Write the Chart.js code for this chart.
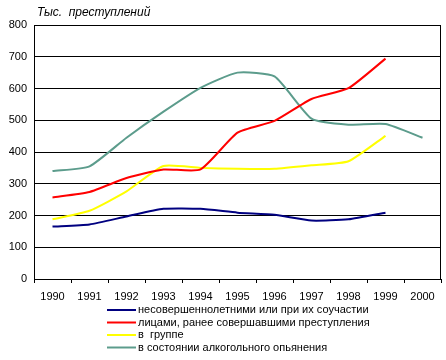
<!DOCTYPE html>
<html>
<head>
<meta charset="utf-8">
<script src="https://cdn.jsdelivr.net/npm/chart.js@4"></script>
<style>
  html, body { margin: 0; padding: 0; background: #fff; }
  #wrap { width: 446px; height: 360px; }
</style>
</head>
<body>
<div id="wrap"><canvas id="crimeChart" width="446" height="360"></canvas></div>
<script>
// years and series (thousand crimes)
const years = ['1990', '1991', '1992', '1993', '1994', '1995', '1996', '1997', '1998', '1999', '2000'];
const minors = [165, 172, 197, 221, 221, 209, 202, 184, 188, 209, null];
const repeaters = [257, 274, 318, 345, 345, 461, 498, 567, 601, 694, null];
const groups = [188, 215, 276, 356, 350, 347, 347, 358, 371, 451, null];
const drunk = [340, 355, 445, 527, 602, 650, 638, 505, 486, 488, 445];

const seriesLabels = [
    'несовершеннолетними или при их соучастии',
    'лицами, ранее совершавшими преступления',
    'в  группе',
    'в состоянии алкогольного опьянения'
];
const seriesColors = ['#000080', '#ff0000', '#ffff00', '#5c9c8c'];
const yTicks = [0, 100, 200, 300, 400, 500, 600, 700, 800];

const FONT = 'Liberation Sans, Arial, sans-serif';

// Title above the plot and the legend stacked under the axis
const extraText = {
    id: 'extraText',
    afterDraw(chart) {
        const { ctx } = chart;
        ctx.save();
        ctx.fillStyle = '#000';
        ctx.font = 'italic 12px ' + FONT;
        ctx.textBaseline = 'middle';
        ctx.fillText('Тыс.  преступлений', 37, 13);

        ctx.font = '11px ' + FONT;
        const rowY = [310, 322.5, 335, 347.5];
        chart.data.datasets.forEach((ds, i) => {
            ctx.strokeStyle = ds.borderColor;
            ctx.lineWidth = 2;
            ctx.beginPath();
            ctx.moveTo(107, rowY[i]);
            ctx.lineTo(136, rowY[i]);
            ctx.stroke();
            ctx.fillText(ds.label, 138, rowY[i]);
        });
        ctx.restore();
    }
};

const datasets = [minors, repeaters, groups, drunk].map((vals, i) => ({
    label: seriesLabels[i],
    data: vals,
    borderColor: seriesColors[i],
    backgroundColor: seriesColors[i],
    borderWidth: 2,
    pointRadius: 0,
    tension: 0.18,
    fill: false
}));

new Chart(document.getElementById('crimeChart'), {
    type: 'line',
    data: { labels: years, datasets: datasets },
    options: {
        responsive: false,
        animation: false,
        layout: { padding: { top: 25, right: 5, bottom: 58, left: 0 } },
        plugins: {
            legend: { display: false },
            tooltip: { enabled: false }
        },
        scales: {
            x: {
                offset: true,
                grid: {
                    display: true,
                    offset: true,
                    drawOnChartArea: false,
                    drawTicks: true,
                    tickLength: 4,
                    color: '#000'
                },
                border: { color: '#000', width: 1 },
                ticks: {
                    color: '#000',
                    font: { family: FONT, size: 11 },
                    maxRotation: 0,
                    autoSkip: false,
                    padding: 7
                },
                afterFit(scale) { scale.height = 23; }
            },
            y: {
                min: 0,
                max: 800,
                afterBuildTicks(scale) { scale.ticks = yTicks.map(v => ({ value: v })); },
                grid: { color: '#000', drawTicks: false },
                border: { color: '#000', width: 1 },
                ticks: {
                    color: '#000',
                    font: { family: FONT, size: 11 },
                    padding: 7
                },
                afterFit(scale) { scale.width = 34; }
            }
        }
    },
    plugins: [extraText, {
        id: 'frame',
        afterDraw(chart) {
            const { ctx, chartArea: a } = chart;
            ctx.save();
            ctx.strokeStyle = '#000';
            ctx.lineWidth = 1;
            ctx.strokeRect(a.left + 0.5, a.top + 0.5, a.right - a.left - 1, a.bottom - a.top);
            ctx.restore();
        }
    }]
});
</script>
</body>
</html>
